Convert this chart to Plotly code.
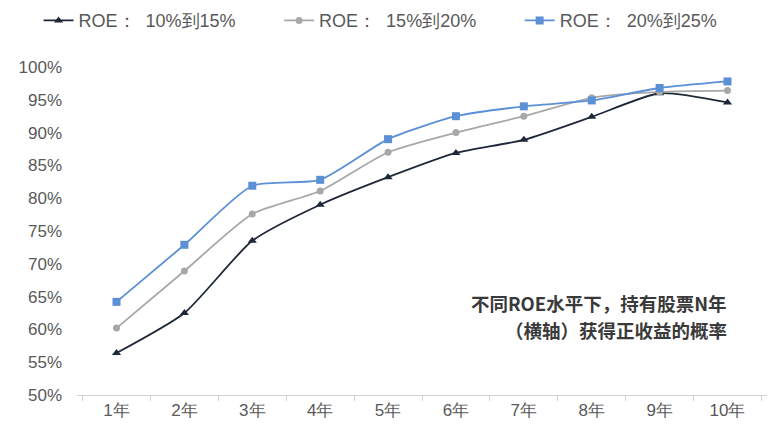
import plotly.graph_objects as go

categories = ["1年", "2年", "3年", "4年", "5年", "6年", "7年", "8年", "9年", "10年"]
roe_10_15 = [56.4, 62.5, 73.5, 79.0, 83.2, 86.9, 88.9, 92.4, 96.0, 94.6]
roe_15_20 = [60.2, 68.9, 77.6, 81.1, 87.0, 90.0, 92.5, 95.3, 96.2, 96.4]
roe_20_25 = [64.2, 72.9, 81.9, 82.8, 89.0, 92.5, 94.0, 94.9, 96.8, 97.8]
series_names = ["ROE：  10%到15%", "ROE：  15%到20%", "ROE：  20%到25%"]
y_ticks = [50, 55, 60, 65, 70, 75, 80, 85, 90, 95, 100]
note_lines = ["不同ROE水平下，持有股票N年", "（横轴）获得正收益的概率"]

fig = go.Figure()
styles = [
    dict(color="#1f2838", symbol="triangle-up", size=8),
    dict(color="#a8a8a8", symbol="circle", size=7),
    dict(color="#5b8fd6", symbol="square", size=8),
]
legend_ids = ["legend", "legend2", "legend3"]
legend_x = [0.05, 0.362, 0.674]
for name, vals, st, lid in zip(series_names, [roe_10_15, roe_15_20, roe_20_25], styles, legend_ids):
    fig.add_trace(go.Scatter(
        x=categories, y=vals, name=name, mode="lines+markers", legend=lid,
        line=dict(color=st["color"], width=1.8, shape="spline", smoothing=0.6),
        marker=dict(color=st["color"], symbol=st["symbol"], size=st["size"]),
    ))

leg_common = dict(orientation="h", xref="container", yref="container", xanchor="left",
                  y=0.995, yanchor="top", font=dict(size=18, color="#595959"),
                  bgcolor="rgba(0,0,0,0)")
fig.update_layout(
    width=771, height=436,
    margin=dict(l=77, r=4, t=67, b=41, autoexpand=False),
    plot_bgcolor="white", paper_bgcolor="white",
    font=dict(family="Liberation Sans, Arial", size=17, color="#595959"),
    legend=dict(x=legend_x[0], **leg_common),
    legend2=dict(x=legend_x[1], **leg_common),
    legend3=dict(x=legend_x[2], **leg_common),
    showlegend=True,
)
fig.update_xaxes(
    type="category", showline=True, linecolor="#d0d0d0", linewidth=1,
    ticks="outside", tickson="boundaries", tickcolor="#d0d0d0", ticklen=5,
    showgrid=False, tickfont=dict(size=17, color="#595959"),
)
fig.update_yaxes(
    range=[50, 100], tickvals=y_ticks, ticktext=[f"{v}%" for v in y_ticks],
    showgrid=False, showline=False, zeroline=False, ticklabelstandoff=14,
    tickfont=dict(size=17, color="#595959"),
)
for i, line in enumerate(note_lines):
    fig.add_annotation(
        text=f"<b>{line}</b>",
        xref="paper", yref="paper", x=0.945, y=0.28 - i * 0.083,
        xanchor="right", yanchor="middle",
        align="right", showarrow=False,
        font=dict(family="Noto Sans CJK SC", size=18.5, color="#3a3a3a"),
    )

fig.write_html("out.html")
